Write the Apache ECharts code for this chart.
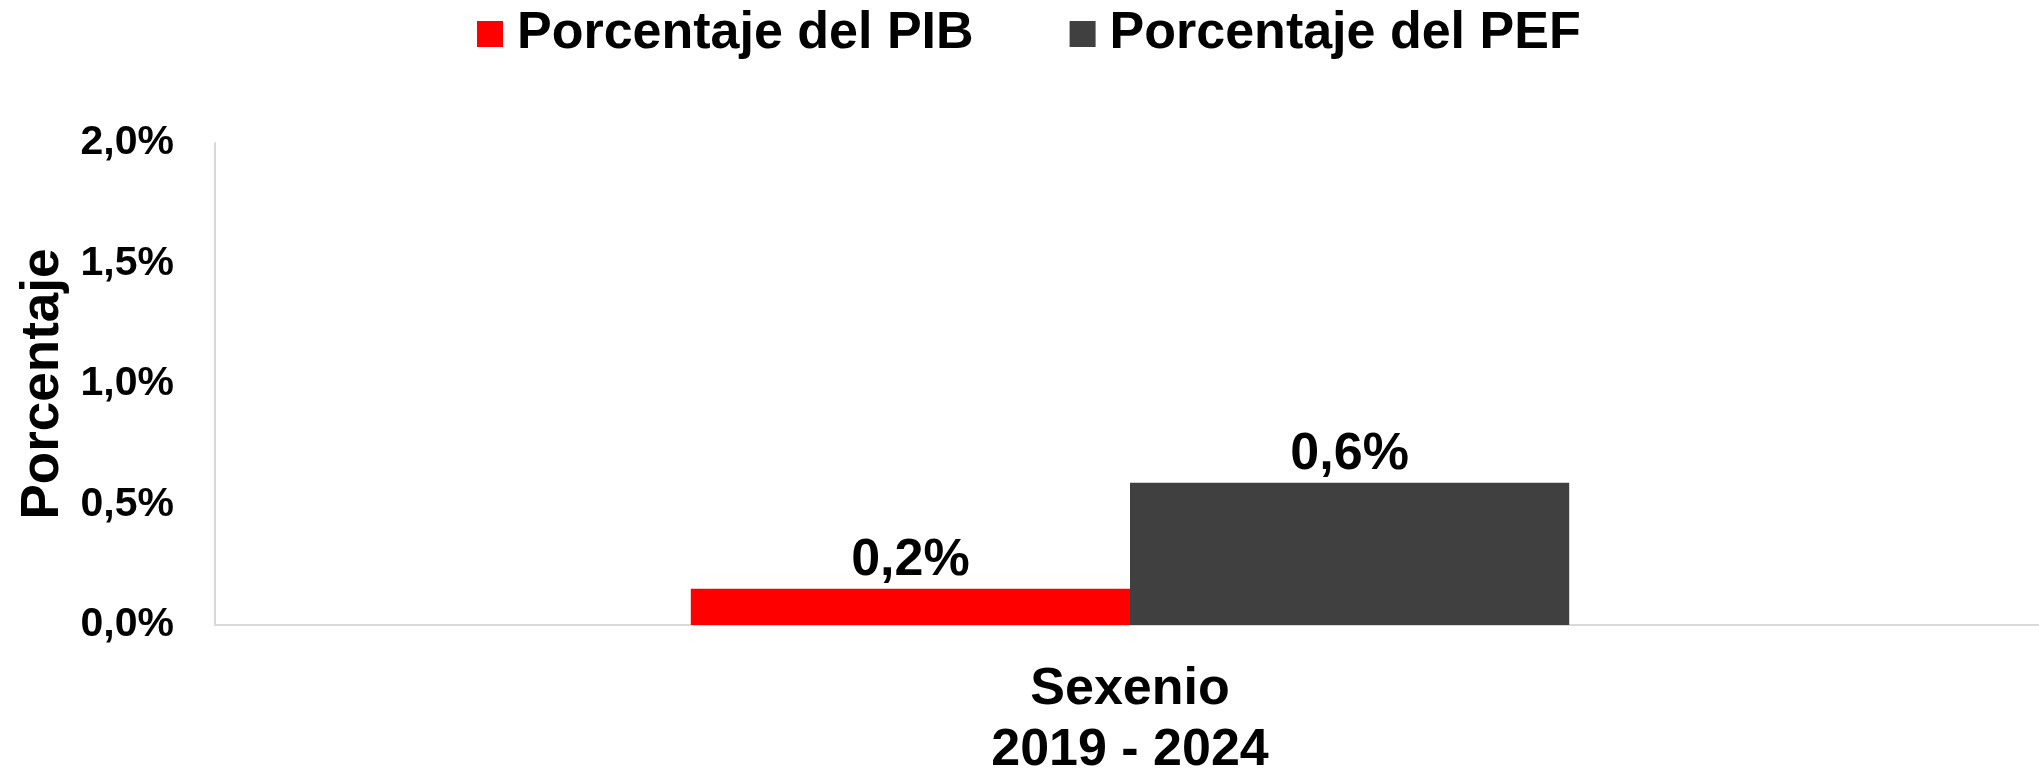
<!DOCTYPE html>
<html>
<head>
<meta charset="utf-8">
<title>Porcentaje del PIB y PEF</title>
<script src="https://cdn.jsdelivr.net/npm/echarts@6/dist/echarts.min.js"></script>
<style>
  html, body { margin: 0; padding: 0; background: #fff; }
  #chart { width: 2039px; height: 774px; }
</style>
</head>
<body>
<div id="chart"></div>
<script>
// datos del grafico
var categorias = ['Sexenio\n2019 - 2024'];
var pctPIB = [0.15];
var pctPEF = [0.59];
var nombres = ['Porcentaje del PIB', 'Porcentaje del PEF'];
var colores = ['#ff0000', '#404040'];

var fuente = '"Liberation Sans", Arial, sans-serif';

// 0.15 -> "0,2%"
function fmtPct(v) {
  var r = Math.round(v * 10) / 10;
  return r.toFixed(1).replace('.', ',') + '%';
}

var chart = echarts.init(document.getElementById('chart'), null, { renderer: 'canvas' });

var etiqueta = {
  show: true,
  position: 'top',
  distance: 2,
  color: '#000',
  fontFamily: fuente,
  fontWeight: 'bold',
  fontSize: 52,
  formatter: function (p) {
    return fmtPct(p.value);
  }
};

chart.setOption({
  animation: false,
  textStyle: { fontFamily: fuente },
  legend: {
    top: 3,
    left: 472,
    icon: 'rect',
    itemWidth: 26,
    itemHeight: 26,
    itemGap: 96,
    textStyle: {
      color: '#000',
      fontFamily: fuente,
      fontWeight: 'bold',
      fontSize: 52,
      padding: [0, 0, 0, 9]
    },
    data: nombres
  },
  grid: {
    left: 215,
    right: -6,
    top: 143,
    bottom: 149,
    containLabel: false,
    outerBoundsMode: 'none'
  },
  xAxis: {
    type: 'category',
    data: categorias,
    axisLine: { show: true, lineStyle: { color: '#d9d9d9', width: 2 } },
    axisTick: { show: false },
    axisLabel: {
      margin: 34,
      color: '#000',
      fontFamily: fuente,
      fontWeight: 'bold',
      fontSize: 52,
      lineHeight: 61
    }
  },
  yAxis: {
    type: 'value',
    min: 0,
    max: 2,
    interval: 0.5,
    name: 'Porcentaje',
    nameLocation: 'middle',
    nameGap: 144,
    nameTextStyle: {
      color: '#000',
      fontFamily: fuente,
      fontWeight: 'bold',
      fontSize: 53
    },
    axisLine: { show: true, lineStyle: { color: '#d9d9d9', width: 2 } },
    axisTick: { show: false },
    splitLine: { show: false },
    axisLabel: {
      margin: 41,
      color: '#000',
      fontFamily: fuente,
      fontWeight: 'bold',
      fontSize: 41,
      formatter: function (v) {
        return v.toFixed(1).replace('.', ',') + '%';
      }
    }
  },
  series: [
    {
      name: nombres[0],
      type: 'bar',
      data: pctPIB,
      barGap: '0%',
      barCategoryGap: '52%',
      itemStyle: { color: colores[0] },
      label: etiqueta
    },
    {
      name: nombres[1],
      type: 'bar',
      data: pctPEF,
      barGap: '0%',
      barCategoryGap: '52%',
      itemStyle: { color: colores[1] },
      label: etiqueta
    }
  ]
});
</script>
</body>
</html>
